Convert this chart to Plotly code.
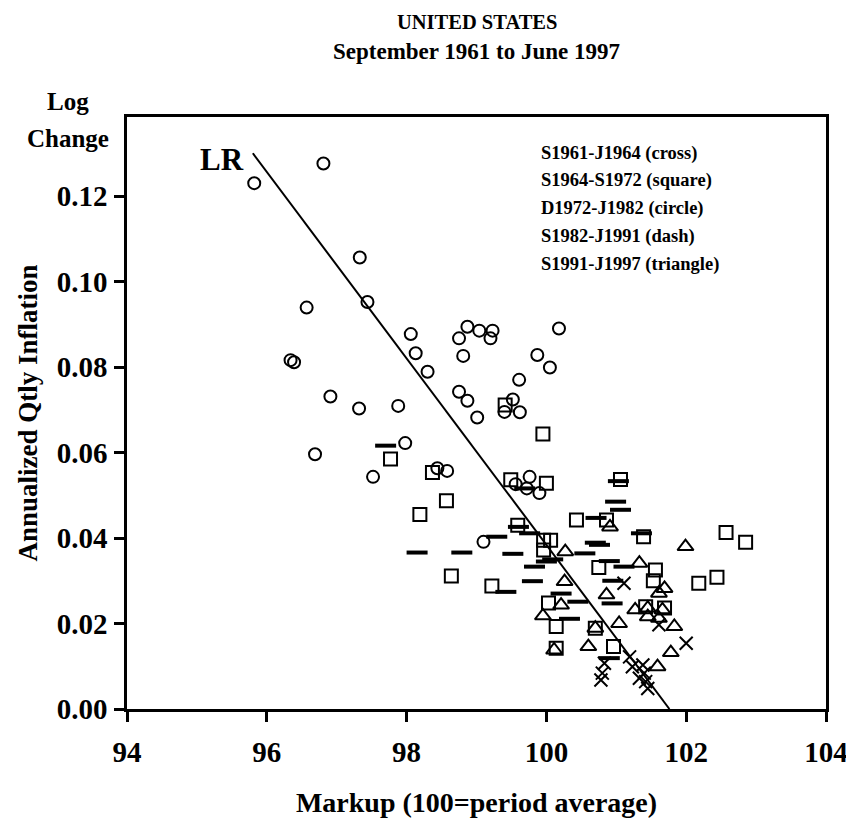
import plotly.graph_objects as go

# ---------------- data ----------------
cross_x = [101.11, 101.61, 102.00, 100.83, 100.80, 100.78, 101.19, 101.23, 101.38, 101.40, 101.42, 101.45, 101.33]
cross_y = [0.0294, 0.0197, 0.0154, 0.0107, 0.0084, 0.0068, 0.0122, 0.0099, 0.0103, 0.0084, 0.0064, 0.0048, 0.0072]

square_x = [99.41, 99.95, 97.77, 98.37, 98.57, 98.19, 99.49, 100.00, 101.06, 100.43, 100.86, 99.59,
            99.96, 100.06, 99.96, 98.64, 99.22, 101.39, 102.57, 102.85, 100.75, 101.56, 101.53,
            102.18, 102.44, 100.03, 101.42, 101.69, 100.14, 100.70, 100.14, 100.96]
square_y = [0.0711, 0.0643, 0.0585, 0.0553, 0.0487, 0.0455, 0.0536, 0.0528, 0.0537, 0.0442, 0.0442, 0.0430,
            0.0395, 0.0395, 0.0372, 0.0311, 0.0288, 0.0403, 0.0413, 0.0390, 0.0331, 0.0325, 0.0300,
            0.0294, 0.0308, 0.0248, 0.0239, 0.0236, 0.0193, 0.0189, 0.0142, 0.0146]

circle_x = [95.82, 96.81, 97.33, 97.44, 96.57, 96.34, 96.39, 96.91, 97.32, 97.88, 98.06, 98.13, 98.30,
            98.87, 98.75, 99.04, 99.23, 99.20, 98.81, 100.18, 99.87, 100.05, 99.61, 98.75, 98.87,
            99.01, 99.52, 99.40, 99.62, 97.98, 96.69, 97.52, 98.44, 98.58, 99.56, 99.76, 99.72,
            99.90, 99.10]
circle_y = [0.1230, 0.1276, 0.1056, 0.0952, 0.0939, 0.0816, 0.0811, 0.0731, 0.0703, 0.0709, 0.0877, 0.0832, 0.0789,
            0.0894, 0.0867, 0.0885, 0.0885, 0.0867, 0.0826, 0.0890, 0.0828, 0.0799, 0.0770, 0.0742, 0.0721,
            0.0682, 0.0724, 0.0695, 0.0694, 0.0622, 0.0596, 0.0543, 0.0563, 0.0557, 0.0526, 0.0543, 0.0516,
            0.0505, 0.0391]

dash_x = [97.70, 98.15, 98.79, 99.52, 99.29, 99.60, 99.76, 99.42, 99.83, 99.80, 100.00, 100.09,
          100.55, 100.70, 100.76, 100.71, 100.99, 101.06, 101.03, 101.36, 100.90, 101.11, 100.95,
          100.45, 100.21, 100.94, 100.33, 100.90, 99.69]
dash_y = [0.0616, 0.0366, 0.0366, 0.0363, 0.0403, 0.0426, 0.0411, 0.0274, 0.0333, 0.0299, 0.0345, 0.0350,
          0.0364, 0.0389, 0.0384, 0.0447, 0.0485, 0.0466, 0.0533, 0.0411, 0.0346, 0.0333, 0.0300,
          0.0251, 0.0270, 0.0247, 0.0211, 0.0119, 0.0516]

tri_x = [100.27, 100.91, 101.99, 101.33, 100.26, 100.86, 101.69, 101.61, 100.21, 101.27, 101.45, 101.66,
         101.45, 99.95, 101.04, 100.70, 101.83, 100.60, 100.11, 101.78, 101.59, 101.61]
tri_y = [0.0368, 0.0426, 0.0380, 0.0341, 0.0298, 0.0267, 0.0282, 0.0271, 0.0243, 0.0232, 0.0236, 0.0232,
         0.0216, 0.0218, 0.0200, 0.0189, 0.0193, 0.0146, 0.0138, 0.0132, 0.0099, 0.0212]

lr_x = [95.80, 101.76]
lr_y = [0.1300, 0.0000]

x_ticks = [94, 96, 98, 100, 102, 104]
y_ticks = [0.00, 0.02, 0.04, 0.06, 0.08, 0.10, 0.12]
y_tick_text = ["0.00", "0.02", "0.04", "0.06", "0.08", "0.10", "0.12"]

legend_lines = ["S1961-J1964 (cross)", "S1964-S1972 (square)", "D1972-J1982 (circle)",
                "S1982-J1991 (dash)", "S1991-J1997 (triangle)"]

# ---------------- figure ----------------
FONT = "Liberation Serif, Times New Roman, serif"
fig = go.Figure()

def add_series(x, y, symbol, size, lw):
    fig.add_trace(go.Scatter(
        x=x, y=y, mode="markers", showlegend=False,
        marker=dict(symbol=symbol, size=size, color="black",
                    line=dict(color="black", width=lw))))

add_series(cross_x, cross_y, "x-thin", 13, 2)
add_series(square_x, square_y, "square-open", 13, 2)
add_series(circle_x, circle_y, "circle-open", 12, 2)
add_series(dash_x, dash_y, "line-ew", 15, 4)
add_series(tri_x, tri_y, "triangle-up-open", 14, 2)

fig.add_trace(go.Scatter(x=lr_x, y=lr_y, mode="lines", showlegend=False,
                         line=dict(color="black", width=2)))

# the page body has an 8px margin, so the figure is drawn 8px smaller and shifted
OFF = 8
W, H = 854 - OFF, 825 - OFF
L, R, T, B = 127 - OFF, 28, 117 - OFF, 116
ph = H - T - B
pw = W - L - R

def py(page_pix):
    return (H - B - (page_pix - OFF)) / ph

def px(page_pix):
    return ((page_pix - OFF) - L) / pw

annotations = [
    dict(text="<b>UNITED STATES</b>", x=0.5, y=py(OFF + 1), yanchor="top", font=dict(size=20.5)),
    dict(text="<b>September 1961 to June 1997</b>", x=0.5, y=py(52), font=dict(size=23)),
    dict(text="<b>Log</b>", x=px(68), y=py(101), font=dict(size=25)),
    dict(text="<b>Change</b>", x=px(68), y=py(138), font=dict(size=25)),
]
for i, t in enumerate(legend_lines):
    annotations.append(dict(text="<b>" + t + "</b>", x=px(539), y=py(153 + 27.8 * i),
                            xanchor="left", font=dict(size=18.5)))
for a in annotations:
    a.update(xref="paper", yref="paper", showarrow=False)
    a.setdefault("xanchor", "center")
    a.setdefault("yanchor", "middle")
    a["font"]["family"] = FONT
    a["font"]["color"] = "black"
annotations.append(dict(text="<b>LR</b>", x=95.36, y=0.1285, xref="x", yref="y",
                        showarrow=False, xanchor="center", yanchor="middle",
                        font=dict(size=31, family=FONT, color="black")))

fig.update_layout(
    width=W, height=H,
    margin=dict(l=L, r=R, t=T, b=B, autoexpand=False),
    paper_bgcolor="white", plot_bgcolor="white",
    font=dict(family=FONT, color="black"),
    annotations=annotations,
)
fig.update_xaxes(
    range=[94, 104], tickvals=x_ticks, ticktext=[str(v) for v in x_ticks], automargin=False,
    showgrid=False, zeroline=False, showline=True, linecolor="black", linewidth=2.5, mirror=True,
    ticks="outside", ticklen=10, tickwidth=2.5, tickcolor="black",
    tickfont=dict(size=29, family=FONT, weight="bold"), ticklabelstandoff=5,
    title=dict(text="<b>Markup (100=period average)</b>", font=dict(size=28, family=FONT), standoff=26),
)
fig.update_yaxes(
    range=[0, ph / 4275], tickvals=y_ticks, ticktext=y_tick_text, automargin=False,
    showgrid=False, zeroline=False, showline=True, linecolor="black", linewidth=2.5, mirror=True,
    ticks="outside", ticklen=10, tickwidth=2.5, tickcolor="black",
    tickfont=dict(size=29, family=FONT, weight="bold"), ticklabelstandoff=1,
    title=dict(text="<b>Annualized Qtly Inflation</b>", font=dict(size=27, family=FONT), standoff=12),
)

fig.write_html("out.html")
